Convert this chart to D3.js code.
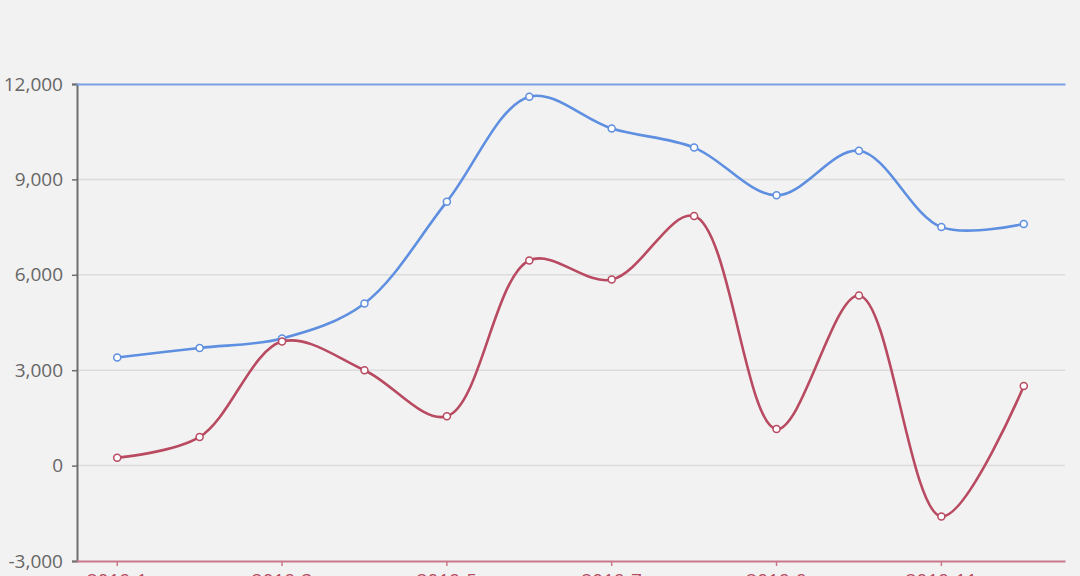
<!DOCTYPE html>
<html><head><meta charset="utf-8">
<script src="https://cdn.jsdelivr.net/npm/d3@7"></script>
<style>
html,body{margin:0;padding:0;background:#f3f2f2;}
svg{display:block;}
text{font-family:"Open Sans","Noto Sans",sans-serif;}
</style></head>
<body>
<svg id="c" width="1080" height="576"></svg>
<script>
const categories = ["2019-1","2019-2","2019-3","2019-4","2019-5","2019-6","2019-7","2019-8","2019-9","2019-10","2019-11","2019-12"];
const blueValues = [3400,3700,4000,5100,8300,11600,10600,10000,8500,9900,7500,7600];
const redValues = [250,900,3900,3000,1550,6450,5850,7850,1150,5350,-1600,2500];
const yTicks = [-3000,0,3000,6000,9000,12000];

(function(){
const svg = d3.select("#c");
const mLeft=76,mRight=1065,mTop=84,mBottom=561;
const blue="#5e8fe0", red="#b84a61";

const x = d3.scaleBand().domain(categories).range([mLeft,mRight]);
const y = d3.scaleLinear().domain([-3000,12000]).range([mBottom,mTop]);
const fmt = d => d3.format(",")(d).replace("\u2212","-");

// gridlines
svg.append("g").selectAll("line").data(yTicks.filter(d=>d!==-3000&&d!==12000)).join("line")
  .attr("x1",mLeft).attr("x2",mRight).attr("y1",d=>y(d)).attr("y2",d=>y(d))
  .attr("stroke","#dcdcdc").attr("stroke-width",1.5);

// y axis
const yAxis = svg.append("g").attr("transform",`translate(${mLeft+1},0)`)
  .call(d3.axisLeft(y).tickValues(yTicks).tickFormat(fmt).tickSize(5).tickPadding(9));
yAxis.select(".domain").attr("stroke","#6e6e6e").attr("stroke-width",2);
yAxis.selectAll(".tick line").attr("stroke","#6e6e6e").attr("stroke-width",1.5);
yAxis.selectAll("text").attr("fill","#666").style("font-size","19px").style("font-family","'Open Sans','Noto Sans',sans-serif");

// top x axis (blue)
const xTop = svg.append("g").attr("transform",`translate(0,${mTop})`)
  .call(d3.axisTop(x).tickValues([]).tickSizeOuter(0));
xTop.select(".domain").attr("stroke","#7aa0e6").attr("stroke-width",2);

// bottom x axis (red)
const xBot = svg.append("g").attr("transform",`translate(0,${mBottom})`)
  .call(d3.axisBottom(x).tickValues(categories.filter((d,i)=>i%2===0)).tickSize(5).tickSizeOuter(0).tickPadding(8));
xBot.select(".domain").attr("stroke","#c9788a").attr("stroke-width",2);
xBot.selectAll(".tick line").attr("stroke","#c9788a").attr("stroke-width",1.5);
xBot.selectAll("text").attr("fill","#b84a61").style("font-size","19px").style("font-family","'Open Sans','Noto Sans',sans-serif");

function drawSeries(vals,color){
  const pts = vals.map((v,i)=>[x(categories[i])+x.bandwidth()/2, y(v)]);
  const line = d3.line().curve(d3.curveCatmullRom.alpha(0.5));
  svg.append("path").attr("d",line(pts)).attr("fill","none")
    .attr("stroke",color).attr("stroke-width",2.6);
  svg.append("g").selectAll("circle").data(pts).join("circle")
    .attr("cx",d=>d[0]).attr("cy",d=>d[1]).attr("r",3.5)
    .attr("fill","#fff").attr("stroke",color).attr("stroke-width",1.5);
}
drawSeries(blueValues,blue);
drawSeries(redValues,red);
})();
</script>
</body></html>
